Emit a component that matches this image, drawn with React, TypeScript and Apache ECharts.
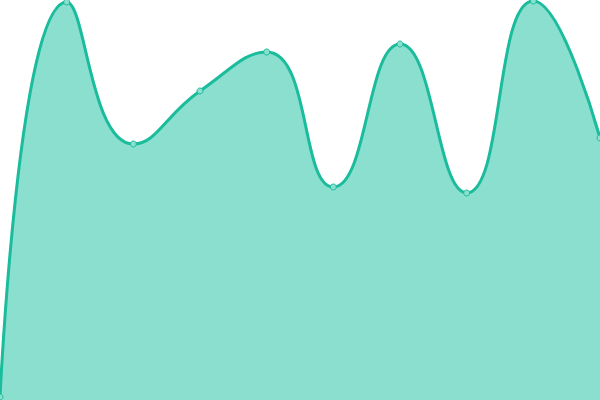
import React, { useEffect, useRef } from 'react'
import * as echarts from 'echarts'

const categories = ['1', '2', '3', '4', '5', '6', '7', '8', '9', '10']
const values = [3, 398, 256, 309, 348, 213, 356, 207, 399, 262]

const App: React.FC = () => {
  const chartRef = useRef<HTMLDivElement>(null)

  useEffect(() => {
    if (!chartRef.current) return
    const chart = echarts.init(chartRef.current, undefined, { renderer: 'svg' })

    const option: echarts.EChartsOption = {
      animation: false,
      grid: { left: 0, right: 0, top: 0, bottom: 0 },
      xAxis: {
        type: 'category',
        data: categories,
        boundaryGap: false,
        show: false
      },
      yAxis: {
        type: 'value',
        min: 0,
        max: 400,
        show: false
      },
      series: [
        {
          type: 'line',
          data: values,
          smooth: true,
          symbol: 'circle',
          symbolSize: 6,
          itemStyle: { color: '#8adfcf', borderColor: '#1abc9c', borderWidth: 1 },
          lineStyle: { color: '#1abc9c', width: 3 },
          areaStyle: { color: '#8adfcf', opacity: 1 }
        }
      ]
    }

    chart.setOption(option)
    return () => {
      chart.dispose()
    }
  }, [])

  return <div ref={chartRef} style={{ width: 600, height: 400, position: 'absolute', left: 0, top: 0 }} />
}

export default App
